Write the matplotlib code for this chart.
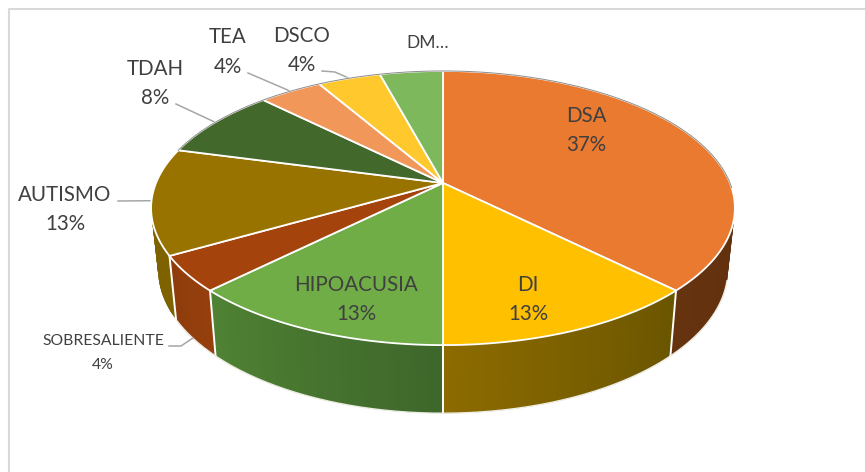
import numpy as np
import matplotlib
matplotlib.use("Agg")
import matplotlib.pyplot as plt

categories = ["DSA", "DI", "HIPOACUSIA", "SOBRESALIENTE", "AUTISMO", "TDAH", "TEA", "DSCO", "DM…"]
counts = [9, 3, 3, 1, 3, 2, 1, 1, 1]
pct_labels = ["37%", "13%", "13%", "4%", "13%", "8%", "4%", "4%", ""]

top_colors = ["#E97A2F", "#FFC000", "#70AD47", "#A5430D", "#997300", "#43682B", "#F1975A", "#FFC92E", "#7DB95C"]
wall_start = ["#5A2C0C", "#6A5500", "#3E672B", "#963F0D", "#7E6200", "#43682B", "#F1975A", "#FFC92E", "#7DB95C"]
wall_end = ["#66330F", "#8C6B00", "#4F8233", "#8E3C0C", "#7E6200", "#43682B", "#F1975A", "#FFC92E", "#7DB95C"]

# pixel geometry of the tilted disc
cx, cy = 443, 183
a, b, k = 287, 132.5, 0.1826
sx, sy, dy0 = 0.976, 1.05, 60


def top_pt(theta):
    t = np.radians(theta)
    d = 1 + k * np.cos(t)
    return cx + a * np.sin(t) / d, cy - b * np.cos(t) / d


def bot_pt(theta):
    x, y = top_pt(theta)
    return cx + (x - cx) * sx, cy + dy0 + (y - cy) * sy


def mix(c1, c2, f):
    c1 = np.array(matplotlib.colors.to_rgb(c1))
    c2 = np.array(matplotlib.colors.to_rgb(c2))
    return tuple(c1 + (c2 - c1) * f)


fig = plt.figure(figsize=(8.65, 4.72), dpi=100)
ax = fig.add_axes([0, 0, 1, 1])
ax.set_xlim(0, 865)
ax.set_ylim(472, 0)
ax.axis("off")

plt.rcParams["font.family"] = ["Lato", "DejaVu Sans"]

# chart frame
ax.plot([9, 9, 865], [472, 9, 9], color="#D9D9D9", lw=1.5, zorder=1)

edges = 360 * np.cumsum([0] + counts) / sum(counts)

# side wall, only the part facing us. quads overlap the next one so no seams show
for i in range(len(counts)):
    t0, t1 = max(edges[i], 60), min(edges[i + 1], 300)
    if t1 <= t0:
        continue
    steps = np.linspace(t0, t1, 40)
    for j in range(len(steps) - 1):
        th = np.linspace(steps[j], steps[min(j + 3, len(steps) - 1)], 5)
        xa, ya = top_pt(th)
        xd, yd = bot_pt(th[::-1])
        c = mix(wall_start[i], wall_end[i], j / 38)
        ax.fill(np.r_[xa, xd], np.r_[ya, yd], facecolor=c, edgecolor="none", zorder=2)
    if 100 < edges[i] < 270:
        xa, ya = top_pt(edges[i])
        xd, yd = bot_pt(edges[i])
        ax.plot([xa, xd], [ya, yd], color="white", lw=1.4, zorder=3)

# soft light rim under the wall
arc = np.linspace(105, 240, 200)
xr, yr = bot_pt(arc)
ax.plot(xr, yr, color="#EDEDE4", lw=1.0, zorder=3)

# top face
for i in range(len(counts)):
    th = np.linspace(edges[i], edges[i + 1], 80)
    xs, ys = top_pt(th)
    ax.fill(np.r_[cx, xs], np.r_[cy, ys], facecolor=top_colors[i],
            edgecolor="white", lw=1.3, joinstyle="round", zorder=4)

# thin grey line along the far rim
arc = np.linspace(-75, 92, 200)
xr, yr = top_pt(arc)
ax.plot(xr, yr, color="#8C8C8C", lw=0.7, zorder=5)

# leader lines, from label elbow to the slice rim
mids = (edges[:-1] + edges[1:]) / 2
leaders = {4: [(118, 201)], 5: [(176, 104)], 6: [(248, 73)], 7: [(322, 71), (335, 72)]}
for i, pts in leaders.items():
    ex, ey = top_pt(mids[i])
    ax.plot([p[0] for p in pts] + [ex], [p[1] for p in pts] + [ey], color="#A6A6A6", lw=1.1, zorder=3)
ax.plot([169, 181, 193], [346, 346, 338], color="#A6A6A6", lw=1.1, zorder=5)

# labels
label_pos = [(586, 116), (528, 285), (356, 285), (103, 341), (65, 195), (155, 69), (228, 37), (302, 36), (428, 43)]
label_gap = [29, 29, 29, 24, 29, 29, 30, 29, 0]
label_size = [14.8, 14.8, 14.8, 11.3, 14.8, 14.8, 14.8, 14.8, 12.5]
for i, name in enumerate(categories):
    x, y = label_pos[i]
    ax.text(x, y, name, ha="center", va="center", fontsize=label_size[i], color="#404040", zorder=6)
    if pct_labels[i]:
        ax.text(x, y + label_gap[i], pct_labels[i], ha="center", va="center",
                fontsize=label_size[i], color="#404040", zorder=6)

fig.savefig("out.png", dpi=100, facecolor="white")
